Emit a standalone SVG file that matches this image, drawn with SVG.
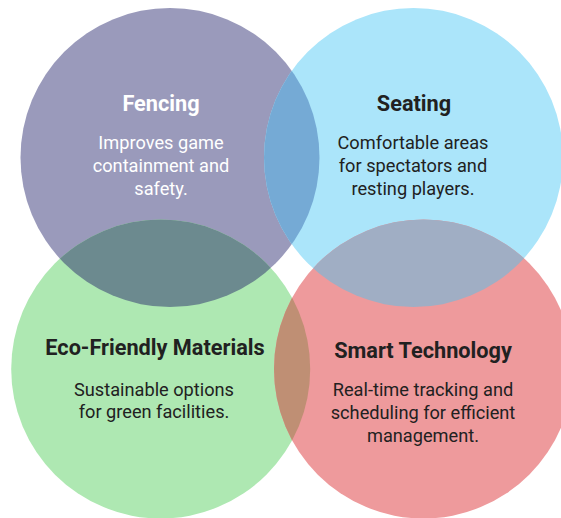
<svg xmlns="http://www.w3.org/2000/svg" width="561" height="518" viewBox="0 0 561 518">
<style>
.t{font-family:Roboto,"Liberation Sans",sans-serif;font-size:21.7px;font-weight:700;text-anchor:middle}
.b{font-family:Roboto,"Liberation Sans",sans-serif;font-size:18.2px;text-anchor:middle}
.w{fill:#fff}.k{fill:#212121}
</style>
<defs>
<clipPath id="cf"><circle cx="170" cy="157.5" r="149.5"/></clipPath>
<clipPath id="cs"><circle cx="413.5" cy="157.5" r="149.5"/></clipPath>
<clipPath id="cm"><circle cx="423.5" cy="369" r="149.5"/></clipPath>
</defs>
<rect width="561" height="518" fill="#fff"/>
<g id="fencing"><circle cx="170" cy="157.5" r="149.5" fill="#9a9abb"/></g>
<g id="seating"><circle cx="413.5" cy="157.5" r="149.5" fill="#abe5fa"/></g>
<g id="eco"><circle cx="160.7" cy="369" r="149.5" fill="#aee8b2"/></g>
<g id="smart"><circle cx="423.5" cy="369" r="149.5" fill="#ee9a9c"/></g>
<g id="overlaps">
<circle cx="413.5" cy="157.5" r="149.5" fill="#75aad5" clip-path="url(#cf)"/>
<circle cx="160.7" cy="369" r="149.5" fill="#6c8a8f" clip-path="url(#cf)"/>
<circle cx="423.5" cy="369" r="149.5" fill="#a0aec4" clip-path="url(#cs)"/>
<circle cx="160.7" cy="369" r="149.5" fill="#bf8f74" clip-path="url(#cm)"/>
</g>
<g id="labels">
<text class="t w" x="161" y="111">Fencing</text>
<text class="b w" x="161" y="149">Improves game</text>
<text class="b w" x="161" y="172">containment and</text>
<text class="b w" x="161" y="195">safety.</text>
<text class="t k" x="414" y="111">Seating</text>
<text class="b k" x="413" y="149">Comfortable areas</text>
<text class="b k" x="413" y="172">for spectators and</text>
<text class="b k" x="413" y="195">resting players.</text>
<text class="t k" x="155" y="355">Eco-Friendly Materials</text>
<text class="b k" x="154" y="396">Sustainable options</text>
<text class="b k" x="154" y="418">for green facilities.</text>
<text class="t k" x="423" y="358">Smart Technology</text>
<text class="b k" x="423" y="396">Real-time tracking and</text>
<text class="b k" x="423" y="419">scheduling for efficient</text>
<text class="b k" x="423" y="442">management.</text>
</g>
</svg>
